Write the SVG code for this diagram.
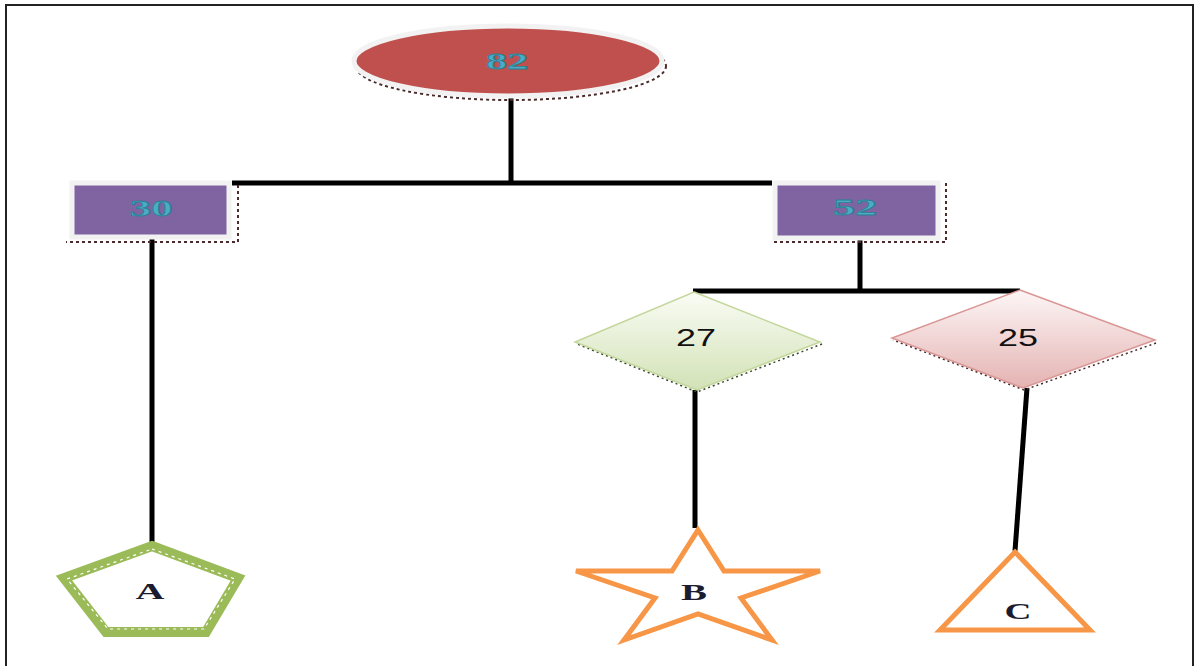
<svg xmlns="http://www.w3.org/2000/svg" width="1194" height="666" viewBox="0 0 1194 666">
<defs>
<linearGradient id="gGreen" x1="0" y1="0" x2="0" y2="1">
<stop offset="0" stop-color="#FAFCF5"/><stop offset="1" stop-color="#D2E2B6"/>
</linearGradient>
<linearGradient id="gPink" x1="0" y1="0" x2="0" y2="1">
<stop offset="0" stop-color="#FDF6F6"/><stop offset="1" stop-color="#E4B3B2"/>
</linearGradient>
</defs>
<style>
.conn{stroke:#000;stroke-width:5;fill:none;stroke-linecap:butt}
.lbl{fill:#4BACC6;stroke:#2E7F95;stroke-width:0.8;font-family:"Liberation Serif",serif;font-weight:bold;font-size:24px;text-anchor:middle;dominant-baseline:central}
.num{fill:#111;font-family:"Liberation Sans",sans-serif;font-size:24px;text-anchor:middle;dominant-baseline:central}
.leaf{fill:#1c1c30;font-family:"Liberation Serif",serif;font-weight:bold;font-size:24px;text-anchor:middle;dominant-baseline:central}
.shadow{fill:none;stroke:#4a2a2a;stroke-width:2;stroke-dasharray:3 3}
.box{fill:#8064A2;stroke:#F2F2F2;stroke-width:5}
.orange{fill:#fff;stroke:#F79646;stroke-width:5;stroke-linejoin:miter}
</style>
<rect width="1194" height="666" fill="#fff"/>
<rect x="6" y="5" width="1187" height="680" fill="none" stroke="#222" stroke-width="2"/>

<g id="connectors">
<line class="conn" x1="511" y1="96" x2="511" y2="185"/>
<line class="conn" x1="232" y1="183" x2="772" y2="183"/>
<line class="conn" x1="152" y1="238" x2="152" y2="542"/>
<line class="conn" x1="860" y1="240" x2="860" y2="293"/>
<line class="conn" x1="693" y1="291" x2="1020" y2="291"/>
<line class="conn" x1="695" y1="390" x2="695" y2="528"/>
<line class="conn" x1="1027" y1="388" x2="1015" y2="551"/>
</g>

<g id="node-82">
<ellipse cx="511" cy="66" rx="155" ry="34" class="shadow" stroke="#5a1e1e"/>
<ellipse cx="508" cy="61" rx="154" ry="35" fill="#C0504D" stroke="#F2F2F2" stroke-width="5"/>
<text class="lbl" x="507" y="61" textLength="42" lengthAdjust="spacingAndGlyphs">82</text>
</g>

<g id="node-30">
<path class="shadow" d="M238,185 V242 H66"/>
<rect class="box" x="72" y="183" width="157" height="54"/>
<text class="lbl" x="151" y="208" textLength="43" lengthAdjust="spacingAndGlyphs">30</text>
</g>

<g id="node-52">
<path class="shadow" d="M946,183 V242 H772"/>
<rect class="box" x="775" y="183" width="163" height="55"/>
<text class="lbl" x="855" y="207" textLength="44" lengthAdjust="spacingAndGlyphs">52</text>
</g>

<g id="node-27">
<path d="M822,344 L697,392 L577,344" fill="none" stroke="#3a4a2a" stroke-width="1.5" stroke-dasharray="2 3"/>
<polygon points="694,292 820,342 697,390 575,342" fill="url(#gGreen)" stroke="#C3D69B" stroke-width="1.5"/>
<text class="num" x="696" y="337" textLength="40" lengthAdjust="spacingAndGlyphs">27</text>
</g>

<g id="node-25">
<path d="M1156,343 L1024,390 L893,340" fill="none" stroke="#4a2a2a" stroke-width="1.5" stroke-dasharray="2 3"/>
<polygon points="1020,290 1155,340 1023,388 892,338" fill="url(#gPink)" stroke="#D99694" stroke-width="1.5"/>
<text class="num" x="1018" y="337" textLength="40" lengthAdjust="spacingAndGlyphs">25</text>
</g>

<g id="node-A">
<polygon points="152,546 238,578 206,632 106,632 64,578" fill="#fff" stroke="#9BBB59" stroke-width="10" stroke-linejoin="miter"/>
<polygon points="152,549 235,579 204,629 108,629 67,579" fill="none" stroke="#fff" stroke-width="1.2" stroke-dasharray="3 4"/>
<text class="leaf" x="150" y="591" textLength="29" lengthAdjust="spacingAndGlyphs">A</text>
</g>

<g id="node-B">
<polygon class="orange" points="698,530 724,571 820,571 741,598 772,640 698,614 624,640 655,598 576,571 672,571"/>
<text class="leaf" x="694" y="592" textLength="26" lengthAdjust="spacingAndGlyphs">B</text>
</g>

<g id="node-C">
<polygon class="orange" points="1015,552 1090,630 940,630"/>
<text class="leaf" x="1018" y="611" textLength="27" lengthAdjust="spacingAndGlyphs">C</text>
</g>
</svg>
